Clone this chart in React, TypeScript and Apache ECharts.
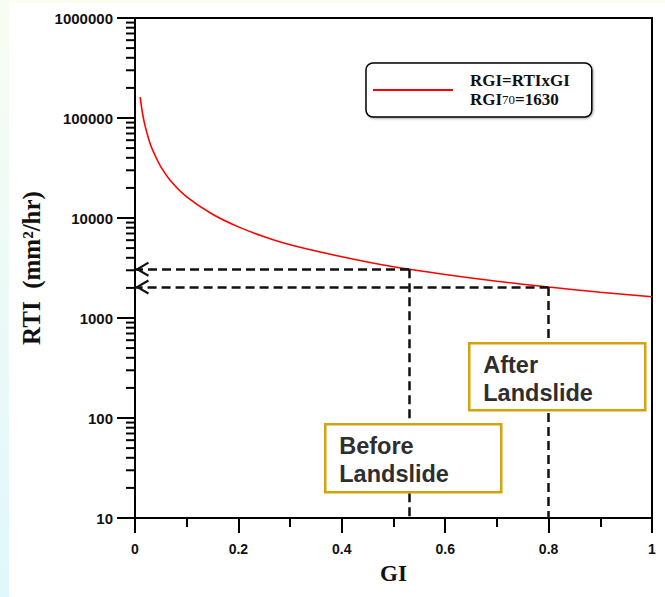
import React, { useEffect, useRef } from "react";
import * as echarts from "echarts";

// ---- data ----
const giValues = [0.01, 0.015, 0.02, 0.03, 0.04, 0.05, 0.07, 0.1, 0.15, 0.2, 0.25, 0.3, 0.4, 0.5, 0.6, 0.7, 0.8, 0.9, 1.0];
const rtiValues = [162000, 108000, 81500, 54000, 41000, 32500, 23200, 16300, 10900, 8150, 6500, 5400, 4100, 3250, 2720, 2330, 2040, 1810, 1630];

const seriesName = "RGI=RTIxGI";
const beforeGI = 0.53;
const beforeRTI = 3080;
const afterGI = 0.8;
const afterRTI = 2040;

const xTickValues = [0, 0.2, 0.4, 0.6, 0.8, 1];
const xTickLabels = ["0", "0.2", "0.4", "0.6", "0.8", "1"];
const yTickValues = [10, 100, 1000, 10000, 100000, 1000000];
const yTickLabels = ["10", "100", "1000", "10000", "100000", "1000000"];
const yDecades = [10, 100, 1000, 10000, 100000];
const yMinorMultipliers = [2, 3, 4, 5, 6, 7, 8, 9];

const chevron = "path://M7,0 M7,13 L14,24.6 L12.2,25.6 L7,16.8 L1.8,25.6 L0,24.6 Z";

export default function App() {
  const ref = useRef<HTMLDivElement>(null);

  useEffect(() => {
    document.body.style.margin = "0";
    if (!ref.current) return;
    const chart = echarts.init(ref.current, undefined, { renderer: "svg" });

    const curveData = giValues.map((g, i) => [g, rtiValues[i]]);
    const minorData: number[][] = [];
    yDecades.forEach((d) => yMinorMultipliers.forEach((m) => minorData.push([0, d * m])));

    const dashStyle = { color: "#111", width: 2.5, type: [9, 5] as any };
    const boxText = (text: string) => ({
      type: "text",
      x: 14,
      y: 8,
      z: 101,
      style: {
        text,
        font: 'bold 23.5px "Liberation Sans"',
        fill: "#2e2e2e",
        lineHeight: 28,
      },
    });

    chart.setOption({
      animation: false,
      backgroundColor: "transparent",
      grid: {
        left: 135,
        right: 13,
        top: 18,
        bottom: 79,
        show: true,
        backgroundColor: "#fff",
        borderColor: "#000",
        borderWidth: 2,
      },
      legend: {
        data: [{ name: seriesName, icon: "rect" }],
        left: 366,
        top: 63,
        orient: "vertical",
        itemWidth: 80,
        itemHeight: 2,
        padding: [9, 22, 9, 7],
        borderColor: "#000",
        borderWidth: 1.5,
        borderRadius: 7,
        backgroundColor: "#fff",
        shadowColor: "rgba(0,0,0,0.35)",
        shadowBlur: 2,
        shadowOffsetX: 1,
        shadowOffsetY: 1,
        selectedMode: false,
        formatter: () => "{a|RGI=RTIxGI}\n{a|RGI}{s|70}{b|=1630}",
        textStyle: {
          rich: {
            a: {
              fontFamily: "Liberation Serif",
              fontWeight: "bold",
              fontSize: 17,
              lineHeight: 19,
              color: "#111",
              padding: [0, 0, 0, 12],
            },
            b: {
              fontFamily: "Liberation Serif",
              fontWeight: "bold",
              fontSize: 17,
              lineHeight: 19,
              color: "#111",
            },
            s: {
              fontFamily: "Liberation Serif",
              fontSize: 13,
              lineHeight: 19,
              color: "#111",
            },
          },
        },
      },
      xAxis: {
        type: "value",
        min: 0,
        max: 1,
        interval: 0.2,
        name: "GI",
        nameLocation: "middle",
        nameGap: 44,
        nameTextStyle: {
          fontFamily: "Liberation Serif",
          fontWeight: "bold",
          fontSize: 23,
          color: "#111",
        },
        axisLine: { show: true, onZero: false, lineStyle: { color: "#000", width: 2 } },
        axisTick: { show: true, length: 15, lineStyle: { color: "#000", width: 2 } },
        minorTick: { show: true, splitNumber: 2, length: 9, lineStyle: { color: "#000", width: 2 } },
        splitLine: { show: false },
        minorSplitLine: { show: false },
        axisLabel: {
          margin: 24,
          fontFamily: "Liberation Sans",
          fontWeight: "bold",
          fontSize: 14,
          color: "#111",
          formatter: (v: number) => {
            const i = xTickValues.findIndex((t) => Math.abs(t - v) < 1e-6);
            return i >= 0 ? xTickLabels[i] : "";
          },
        },
      },
      yAxis: {
        type: "log",
        logBase: 10,
        min: 10,
        max: 1000000,
        name: "RTI  (mm²/hr)",
        nameLocation: "middle",
        nameGap: 85,
        nameRotate: 90,
        nameTextStyle: {
          fontFamily: "Liberation Serif",
          fontWeight: "bold",
          fontSize: 25,
          color: "#111",
        },
        axisLine: { show: true, lineStyle: { color: "#000", width: 2 } },
        axisTick: { show: true, length: 18, lineStyle: { color: "#000", width: 2 } },
        splitLine: { show: false },
        axisLabel: {
          margin: 22,
          fontFamily: "Liberation Sans",
          fontWeight: "bold",
          fontSize: 15,
          color: "#111",
          formatter: (v: number) => {
            const i = yTickValues.findIndex((t) => Math.abs(Math.log10(t) - Math.log10(v)) < 1e-6);
            return i >= 0 ? yTickLabels[i] : "";
          },
        },
      },
      series: [
        {
          name: seriesName,
          type: "line",
          data: curveData,
          symbol: "none",
          smooth: 0.3,
          color: "#ff0000",
          lineStyle: { color: "#ff0000", width: 1.6 },
          z: 3,
          markLine: {
            silent: true,
            animation: false,
            symbol: ["none", "none"],
            symbolSize: [14, 26],
            label: { show: false },
            lineStyle: dashStyle,
            data: [
              [
                { coord: [beforeGI, beforeRTI], symbol: "none" },
                { coord: [0, beforeRTI], symbol: chevron, symbolSize: [15, 28] },
              ],
              [
                { coord: [beforeGI, beforeRTI], symbol: "none" },
                { coord: [beforeGI, 10], symbol: "none" },
              ],
              [
                { coord: [afterGI, afterRTI], symbol: "none" },
                { coord: [0, afterRTI], symbol: chevron, symbolSize: [15, 28] },
              ],
              [
                { coord: [afterGI, afterRTI], symbol: "none" },
                { coord: [afterGI, 10], symbol: "none" },
              ],
            ],
          },
        },
        {
          name: "minorTicks",
          type: "custom",
          coordinateSystem: "cartesian2d",
          silent: true,
          clip: false,
          data: minorData,
          renderItem: (params: any, api: any) => {
            const p = api.coord([api.value(0), api.value(1)]);
            return {
              type: "line",
              shape: { x1: p[0] - 9, y1: p[1], x2: p[0], y2: p[1] },
              style: { stroke: "#000", lineWidth: 2 },
            };
          },
        },
      ],
      graphic: [
        {
          type: "group",
          left: 324,
          top: 423,
          z: 100,
          children: [
            {
              type: "rect",
              z: 100,
              shape: { x: 0, y: 0, width: 176, height: 68 },
              style: { fill: "#fff", stroke: "#d4a20c", lineWidth: 2.5 },
            },
            boxText("Before\nLandslide"),
          ],
        },
        {
          type: "group",
          left: 468,
          top: 342,
          z: 100,
          children: [
            {
              type: "rect",
              z: 100,
              shape: { x: 0, y: 0, width: 176, height: 67 },
              style: { fill: "#fff", stroke: "#d4a20c", lineWidth: 2.5 },
            },
            boxText("After\nLandslide"),
          ],
        },
      ],
    });

    return () => chart.dispose();
  }, []);

  return (
    <div style={{ position: "relative", width: 665, height: 597, background: "#fff", overflow: "hidden" }}>
      <div
        style={{
          position: "absolute",
          left: 0,
          top: 0,
          width: 665,
          height: 3,
          background: "#fbfdf0",
        }}
      />
      <div
        style={{
          position: "absolute",
          left: 0,
          top: 0,
          width: 9,
          height: 597,
          background: "linear-gradient(to bottom, #f8fdf2, #e0f7fc)",
        }}
      />
      <div ref={ref} style={{ position: "absolute", left: 0, top: 0, width: 665, height: 597 }} />
    </div>
  );
}
